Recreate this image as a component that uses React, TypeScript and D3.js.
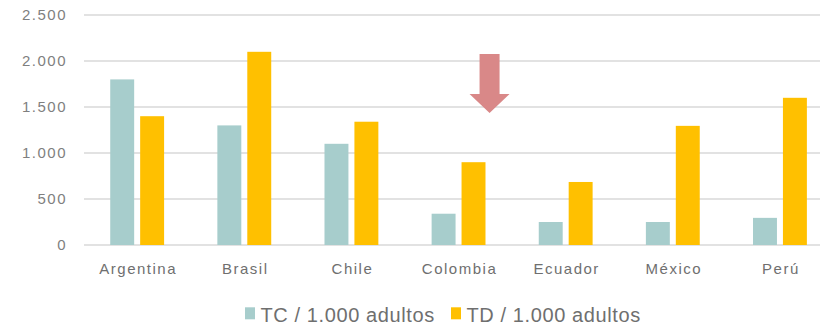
import React from "react";
import * as d3 from "d3";

const categories = ["Argentina", "Brasil", "Chile", "Colombia", "Ecuador", "México", "Perú"];
const seriesNames = ["TC / 1.000 adultos", "TD / 1.000 adultos"];
const tcValues = [1800, 1300, 1100, 340, 250, 250, 295];
const tdValues = [1400, 2100, 1340, 900, 685, 1295, 1600];
const yTicks = [0, 500, 1000, 1500, 2000, 2500];
const yTickLabels = ["0", "500", "1.000", "1.500", "2.000", "2.500"];
const colors = ["#A7CDCC", "#FFC000"];
// annotation arrow (data space, above Colombia)
const arrowCategory = "Colombia";
const arrowTop = 2075;
const arrowHeadBase = 1640;
const arrowTip = 1435;

const W = 820;
const H = 326;

export default function App() {
  const x = d3.scaleBand<string>().domain(categories).range([83.6, 83.6 + 107.13 * 7]).padding(0);
  const x1 = d3
    .scaleBand<number>()
    .domain([0, 1])
    .range([0, x.bandwidth()])
    .paddingInner(0.2)
    .paddingOuter(0.89);
  const y = d3.scaleLinear().domain([0, 2500]).range([245, 15]);
  const series = [tcValues, tdValues];
  const font = "'Liberation Sans', Arial, sans-serif";

  const ax = (x(arrowCategory) as number) + x.bandwidth() / 2 + 31;
  const hw = 20;
  const sw = 10;
  const arrowPath = d3.path();
  arrowPath.moveTo(ax - sw, y(arrowTop));
  arrowPath.lineTo(ax + sw, y(arrowTop));
  arrowPath.lineTo(ax + sw, y(arrowHeadBase));
  arrowPath.lineTo(ax + hw, y(arrowHeadBase));
  arrowPath.lineTo(ax, y(arrowTip));
  arrowPath.lineTo(ax - hw, y(arrowHeadBase));
  arrowPath.lineTo(ax - sw, y(arrowHeadBase));
  arrowPath.closePath();

  const legendX = [245, 451];

  return (
    <svg
      width={W}
      height={H}
      style={{ position: "absolute", left: 0, top: 0, display: "block", background: "#fff" }}
      fontFamily={font}
    >
      {yTicks.map((t, i) => (
        <g key={t}>
          <line x1={84} x2={835} y1={y(t)} y2={y(t)} stroke="#D9D9D9" strokeWidth={1.6} />
          <text
            x={67}
            y={y(t)}
            dy="0.35em"
            textAnchor="end"
            fontSize={15}
            letterSpacing={1.5}
            fill="#7F7F7F"
          >
            {yTickLabels[i]}
          </text>
        </g>
      ))}
      {categories.map((c, ci) => (
        <g key={c} transform={`translate(${x(c)},0)`}>
          {series.map((vals, si) => (
            <rect
              key={si}
              x={x1(si)}
              y={y(vals[ci])}
              width={x1.bandwidth()}
              height={y(0) - y(vals[ci])}
              fill={colors[si]}
            />
          ))}
          <text
            x={x.bandwidth() / 2 + 1}
            y={274}
            textAnchor="middle"
            fontSize={15}
            letterSpacing={1.5}
            fill="#6F6F6F"
          >
            {c}
          </text>
        </g>
      ))}
      <path d={arrowPath.toString()} fill="#D98888" />
      {seriesNames.map((s, i) => (
        <g key={s} transform={`translate(${legendX[i]},0)`}>
          <rect x={0} y={307.3} width={10} height={12} fill={colors[i]} />
          <text x={15.5} y={321.5} fontSize={20} letterSpacing={0.6} fill="#6F6F6F">
            {s}
          </text>
        </g>
      ))}
    </svg>
  );
}
